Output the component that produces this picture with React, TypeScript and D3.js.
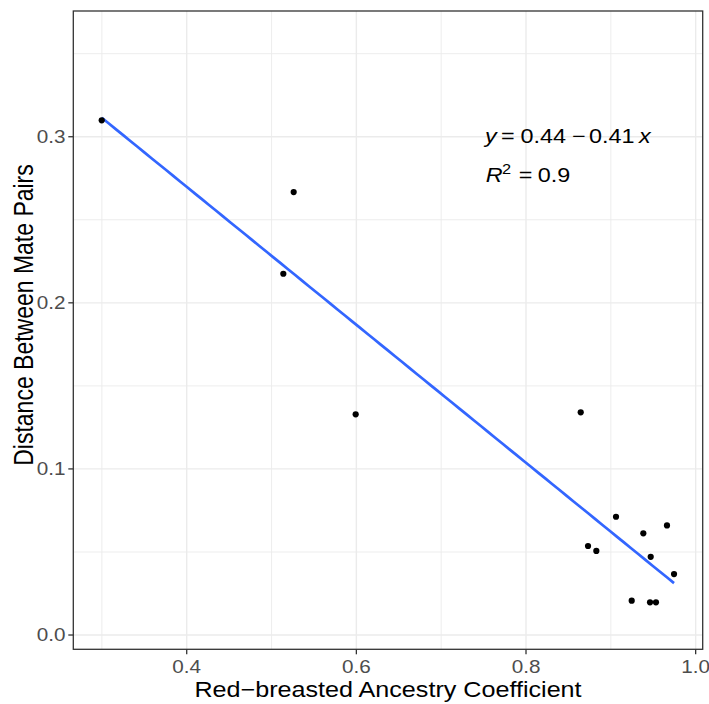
import React from "react";
import * as d3 from "d3";

const ancestry = [0.2998, 0.5261, 0.5139, 0.5992, 0.8645, 0.9061, 0.9383, 0.9662, 0.8731, 0.8829, 0.947, 0.9745, 0.9246, 0.9462, 0.9532];
const distance = [0.3099, 0.2667, 0.2175, 0.1329, 0.1341, 0.0712, 0.0612, 0.066, 0.0536, 0.0506, 0.0471, 0.0367, 0.0207, 0.0197, 0.0197];
const xTicks = [0.4, 0.6, 0.8, 1.0];
const yTicks = [0.0, 0.1, 0.2, 0.3];
const xMinor = [0.3, 0.5, 0.7, 0.9];
const yMinor = [0.05, 0.15, 0.25, 0.35];

const W = 709, H = 704;
const left = 73.3, right = 702.7, top = 11, bottom = 649.3;
const font = "'Liberation Sans', Arial, sans-serif";
// the original text looks stretched sideways a bit
const sx = 1.17;

const App = () => {
  const x = d3.scaleLinear().domain([0.2663, 1.0083]).range([left, right]);
  const y = d3.scaleLinear().domain([-0.0086, 0.3757]).range([bottom, top]);

  // simple least squares fit
  const mx = d3.mean(ancestry)!;
  const my = d3.mean(distance)!;
  let sxy = 0, sxx = 0;
  ancestry.forEach((a, i) => {
    sxy += (a - mx) * (distance[i] - my);
    sxx += (a - mx) * (a - mx);
  });
  const slope = sxy / sxx;
  const icpt = my - slope * mx;
  const [x0, x1] = d3.extent(ancestry) as [number, number];
  const fitLine = d3.line<number>().x(d => x(d)).y(d => y(icpt + slope * d));
  const fitPts = d3.range(0, 81).map(i => x0 + (x1 - x0) * i / 80);

  return (
    <svg width={W} height={H} style={{ position: "absolute", left: 0, top: 0, background: "#fff" }} fontFamily={font}>
      <rect x={0} y={0} width={W} height={H} fill="#fff" />
      {xMinor.map(t => (
        <line key={"xm" + t} x1={x(t)} x2={x(t)} y1={top} y2={bottom} stroke="#EBEBEB" strokeWidth={0.9} />
      ))}
      {yMinor.map(t => (
        <line key={"ym" + t} x1={left} x2={right} y1={y(t)} y2={y(t)} stroke="#EBEBEB" strokeWidth={0.9} />
      ))}
      {xTicks.map(t => (
        <line key={"xg" + t} x1={x(t)} x2={x(t)} y1={top} y2={bottom} stroke="#EBEBEB" strokeWidth={1.4} />
      ))}
      {yTicks.map(t => (
        <line key={"yg" + t} x1={left} x2={right} y1={y(t)} y2={y(t)} stroke="#EBEBEB" strokeWidth={1.4} />
      ))}

      <path d={fitLine(fitPts)!} fill="none" stroke="#3366FF" strokeWidth={2.7} />

      {ancestry.map((a, i) => (
        <circle key={i} cx={x(a)} cy={y(distance[i])} r={3.1} fill="#000" />
      ))}

      <g transform={`translate(485,143.3) scale(${sx},1)`} fontSize={20} fill="#000">
        <text x={0} fontStyle="italic">y</text>
        <text x={13.7}>=</text>
        <text x={30.3}>0.44</text>
        <text x={74.4}>−</text>
        <text x={88.9}>0.41</text>
        <text x={131.6} fontStyle="italic">x</text>
      </g>
      <g transform={`translate(485.7,181.7) scale(${sx},1)`} fontSize={20} fill="#000">
        <text x={0} fontStyle="italic">R</text>
        <text x={14} y={-7.5} fontSize={14}>2</text>
        <text x={28.2}>=</text>
        <text x={44.4}>0.9</text>
      </g>

      <rect x={left} y={top} width={right - left} height={bottom - top} fill="none" stroke="#333333" strokeWidth={1.3} />

      {xTicks.map(t => (
        <g key={"xt" + t}>
          <line x1={x(t)} x2={x(t)} y1={bottom} y2={bottom + 5} stroke="#333333" strokeWidth={1.3} />
          <text transform={`translate(${x(t)},672.7) scale(${sx},1)`} textAnchor="middle" fontSize={17.7} fill="#4D4D4D">{t.toFixed(1)}</text>
        </g>
      ))}
      {yTicks.map(t => (
        <g key={"yt" + t}>
          <line x1={left - 5} x2={left} y1={y(t)} y2={y(t)} stroke="#333333" strokeWidth={1.3} />
          <text transform={`translate(65.5,${y(t)}) scale(${sx},1)`} dy="0.36em" textAnchor="end" fontSize={17.7} fill="#4D4D4D">{t.toFixed(1)}</text>
        </g>
      ))}

      <text transform={`translate(388,697) scale(${sx},1)`} textAnchor="middle" fontSize={21.5} fill="#000">Red−breasted Ancestry Coefficient</text>
      <text transform={`translate(33.3,315) scale(${sx},1) rotate(-90)`} textAnchor="middle" fontSize={23} fill="#000">Distance Between Mate Pairs</text>
    </svg>
  );
};

export default App;
